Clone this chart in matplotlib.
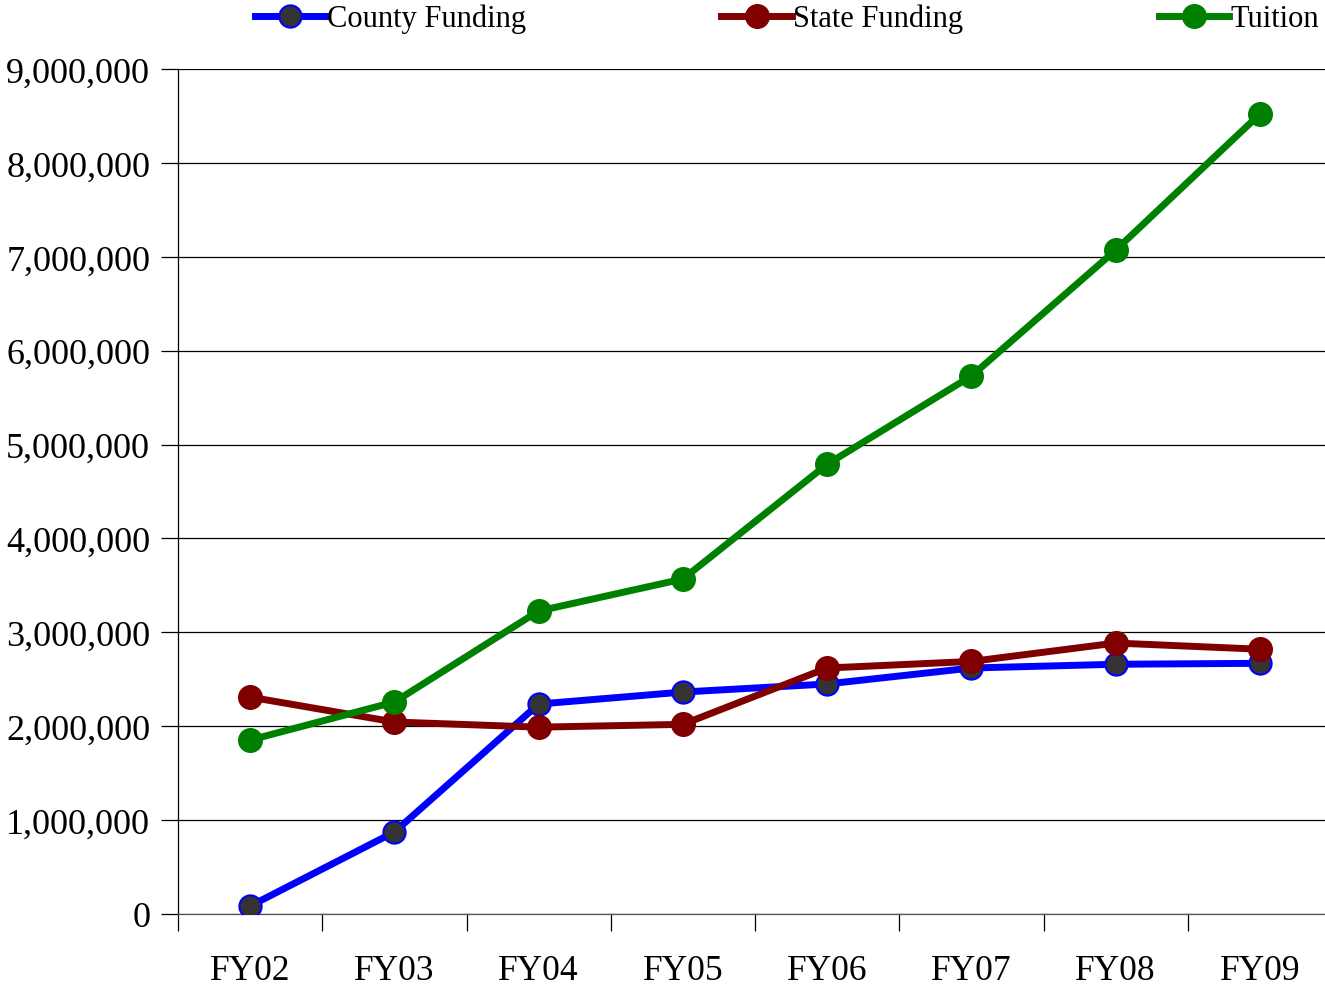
import matplotlib.pyplot as plt
from matplotlib.ticker import FuncFormatter

years = ['FY02', 'FY03', 'FY04', 'FY05', 'FY06', 'FY07', 'FY08', 'FY09']
county = [85000, 873000, 2236000, 2364000, 2450000, 2620000, 2660000, 2670000]
state = [2310000, 2045000, 1990000, 2020000, 2620000, 2690000, 2886000, 2820000]
tuition = [1853000, 2258000, 3227000, 3568000, 4790000, 5730000, 7070000, 8520000]

plt.rcParams['font.family'] = ['Liberation Serif', 'DejaVu Serif']

fig = plt.figure(figsize=(13.25, 9.87), dpi=100)
ax = fig.add_axes([178 / 1325, 1 - 915 / 987, 1154 / 1325, 845 / 987])

x = list(range(len(years)))
ax.plot(x, county, color='#0000ff', lw=5, marker='o', ms=16,
        mfc='#333333', mec='#0000ff', mew=1.5, label='County Funding', zorder=3)
ax.plot(x, state, color='#800000', lw=5, marker='o', ms=17,
        mfc='#800000', mec='#800000', label='State Funding', zorder=3)
ax.plot(x, tuition, color='#008000', lw=5, marker='o', ms=17,
        mfc='#008000', mec='#008000', label='Tuition', zorder=3)

ax.set_xlim(-0.5, len(years) - 0.5)
ax.set_ylim(0, 9000000)
ax.set_yticks(range(0, 9000001, 1000000))
ax.yaxis.set_major_formatter(FuncFormatter(lambda v, p: f'{int(v):,}'))
ax.grid(axis='y', color='black', lw=0.9)
ax.set_axisbelow(True)

ax.set_xticks([i + 0.5 for i in range(-1, len(years))])
ax.set_xticklabels([])
ax.set_xticks(x, minor=True)
ax.set_xticklabels(years, minor=True, fontsize=25.5)
ax.tick_params(axis='x', which='major', length=12, width=0.9, direction='out')
ax.tick_params(axis='x', which='minor', length=0, pad=29)
ax.tick_params(axis='y', length=12, width=0.9, labelsize=26, pad=8)

for s in ['top', 'right']:
    ax.spines[s].set_visible(False)
ax.spines['left'].set_linewidth(0.9)
ax.spines['bottom'].set_linewidth(0.9)
ax.spines['bottom'].set_color('#555555')

fig.legend(loc='upper left', bbox_to_anchor=(255 / 1325, 0.995), ncol=3, frameon=False,
           fontsize=22, handlelength=2.3, handletextpad=0.05, columnspacing=6.4,
           borderaxespad=0, borderpad=0)

fig.savefig('out.png', dpi=100)
